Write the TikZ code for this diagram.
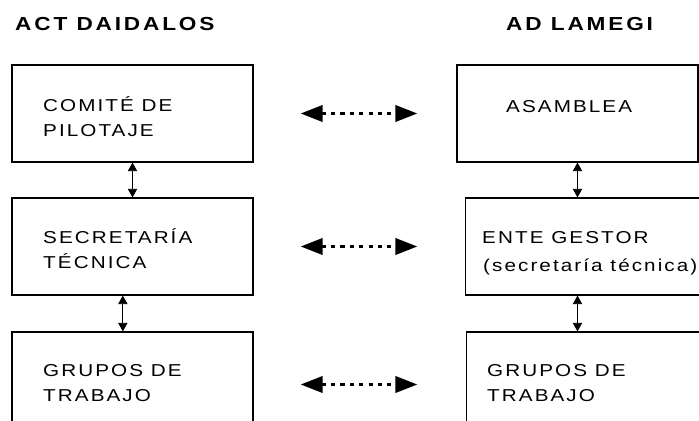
\documentclass[tikz,border=0pt]{standalone}
\usepackage{fontspec}
\setmainfont{Liberation Sans}
\newfontfamily\boxfont[LetterSpace=12,FakeStretch=1.2]{Liberation Sans}
\newfontfamily\headfont[LetterSpace=15,FakeStretch=1.2]{Liberation Sans Bold}
\usetikzlibrary{arrows.meta}

\begin{document}
\begin{tikzpicture}[x=0.03cm, y=-0.03cm,
    box/.style={draw, line width=0.9pt, inner sep=0pt, minimum width=7.23cm, minimum height=2.91cm},
    wbox/.style={box, minimum width=7.9cm},
    txt/.style={font=\boxfont\fontsize{14.7}{20.5}\selectfont, anchor=base west, inner sep=0pt, align=left},
    head/.style={font=\headfont\fontsize{16.1}{20}\selectfont, anchor=base west, inner sep=0pt},
    vconn/.style={{Triangle[length=0.26cm,width=0.28cm]}-{Triangle[length=0.26cm,width=0.28cm]}, line width=0.8pt},
    hconn/.style={{Triangle[length=0.66cm,width=0.48cm]}-{Triangle[length=0.66cm,width=0.48cm]},
      line width=3pt, dash pattern=on 3.5pt off 4.5pt, shorten <=1.41cm, shorten >=1.17cm}]

  \useasboundingbox (0,0) rectangle (699,421);
  \clip (0,0) rectangle (699,421);

  % Titel
  \node[head] (actt) at (15,31) {ACT DAIDALOS};
  \node[head] (adlt) at (506,31) {AD LAMEGI};

  % ACT DAIDALOS
  \node[box] (cp) at (132.5,113.5) {};
  \node[box] (st) at (132.5,246.5) {};
  \node[box] (gt) at (132.5,380.5) {};
  \node[txt] (cptxt) at (43,136) {COMITÉ DE\\PILOTAJE};
  \node[txt] (sttxt) at (43,268) {SECRETARÍA\\TÉCNICA};
  \node[txt] (gttxt) at (43,401) {GRUPOS DE\\TRABAJO};

  % AD LAMEGI
  \node[box] (as) at (577.5,113.5) {};
  \node[wbox] (eg) at (597.5,246.5) {};
  \node[wbox] (gr) at (598.5,380.5) {};
  \node[txt] (astxt) at (506,112) {ASAMBLEA};
  \node[txt] (egtxt) at (482,243) {ENTE GESTOR};
  \node[txt] (egsub) at (483,271) {(secretaría técnica)};
  \node[txt] (grtxt) at (487,401) {GRUPOS DE\\TRABAJO};

  \draw[vconn] (cp.south) -- (st.north);
  \draw[vconn] ([xshift=-0.29cm]st.south) -- ([xshift=-0.29cm]gt.north);
  \draw[vconn] (as.south) -- (as.south |- eg.north);
  \draw[vconn] (as.south |- eg.south) -- (as.south |- gr.north);

  \draw[hconn] (cp.east) -- (cp.east -| as.west);
  \draw[hconn] (st.east) -- (st.east -| as.west);
  \draw[hconn] ([yshift=-0.12cm]gt.east) -- ([yshift=-0.12cm]gt.east -| as.west);
\end{tikzpicture}
\end{document}
